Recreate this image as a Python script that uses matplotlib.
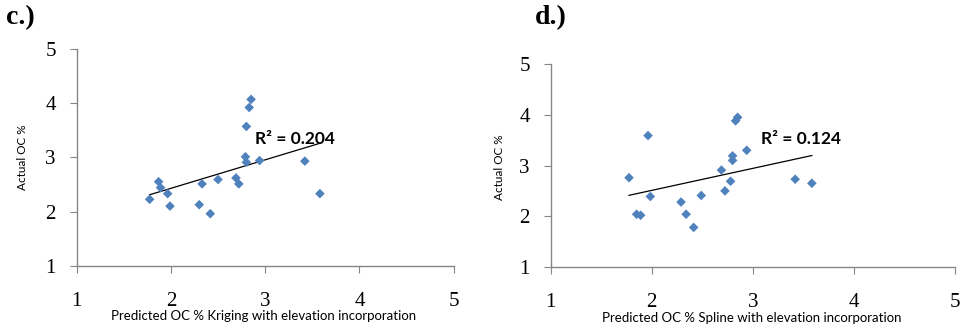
import numpy as np
from matplotlib import pyplot as plt

# panel c: kriging with elevation
krig_pred = [1.774, 1.869, 1.89, 1.965, 1.99, 2.30, 2.33, 2.417, 2.50, 2.69,
             2.72, 2.79, 2.80, 2.80, 2.83, 2.85, 2.94, 3.42, 3.58]
krig_actual = [2.225, 2.55, 2.44, 2.33, 2.10, 2.126, 2.51, 1.96, 2.59, 2.62,
               2.51, 3.01, 2.91, 3.57, 3.92, 4.07, 2.94, 2.93, 2.33]

# panel d: spline with elevation
spl_pred = [1.775, 1.963, 1.986, 1.85, 1.89, 2.29, 2.34, 2.415, 2.49, 2.69,
            2.725, 2.78, 2.80, 2.80, 2.83, 2.85, 2.94, 3.42, 3.585]
spl_actual = [2.76, 3.59, 2.39, 2.04, 2.02, 2.28, 2.04, 1.78, 2.41, 2.91,
              2.50, 2.69, 3.19, 3.10, 3.88, 3.95, 3.30, 2.73, 2.65]

ticks = [1, 2, 3, 4, 5]
grey = '#868686'
blue = '#4F81BD'

fig = plt.figure(figsize=(9.62, 3.29), dpi=100)


def panel(rect, x, y, r2_txt, xlabel, letter, letter_pos, r2_pos, ylab_x, xlab_y):
    ax = fig.add_axes(rect)
    ax.scatter(x, y, marker='D', s=24, color=blue, edgecolors='none', zorder=3)
    k, b = np.polyfit(x, y, 1)
    xx = np.array([min(x), max(x)])
    ax.plot(xx, k * xx + b, color='black', lw=0.9)
    ax.set_xlim(1, 5)
    ax.set_ylim(1, 5)
    ax.set_xticks(ticks)
    ax.set_yticks(ticks)
    for s in ['top', 'right']:
        ax.spines[s].set_visible(False)
    for s in ['left', 'bottom']:
        ax.spines[s].set_color(grey)
        ax.spines[s].set_linewidth(1.0)
    ax.tick_params(axis='both', direction='out', length=5, color=grey,
                   labelsize=15)
    ax.tick_params(axis='x', pad=14)
    ax.tick_params(axis='y', pad=10)
    for t in ax.get_xticklabels() + ax.get_yticklabels():
        t.set_family('Liberation Serif')
    ax.text(r2_pos[0], r2_pos[1], r2_txt, transform=fig.transFigure,
            fontsize=12.5, fontweight='bold', family='Lato', va='center')
    fig.text(letter_pos[0], letter_pos[1], letter, fontsize=20,
             fontweight='bold', family='Liberation Serif', va='center')
    fig.text(ylab_x[0], ylab_x[1], 'Actual OC %', rotation=90, fontsize=8.5,
             family='Lato', ha='center', va='center')
    fig.text(xlab_y[0], xlab_y[1], xlabel, fontsize=9.5, family='Lato',
             ha='center', va='center')
    return ax


panel([0.0797, 0.1924, 0.392, 0.6587], krig_pred, krig_actual, 'R² = 0.204',
      'Predicted OC % Kriging with elevation incorporation', 'c.)',
      (6 / 962, 1 - 18 / 329), (255 / 962, 1 - 139 / 329),
      (22 / 962, 1 - 157 / 329), (264 / 962, 1 - 316 / 329))
panel([0.5725, 0.1884, 0.420, 0.617], spl_pred, spl_actual, 'R² = 0.124',
      'Predicted OC % Spline with elevation incorporation', 'd.)',
      (535 / 962, 1 - 18 / 329), (761 / 962, 1 - 139 / 329),
      (500 / 962, 1 - 167 / 329), (752 / 962, 1 - 318 / 329))

plt.savefig('out.png', dpi=100)
